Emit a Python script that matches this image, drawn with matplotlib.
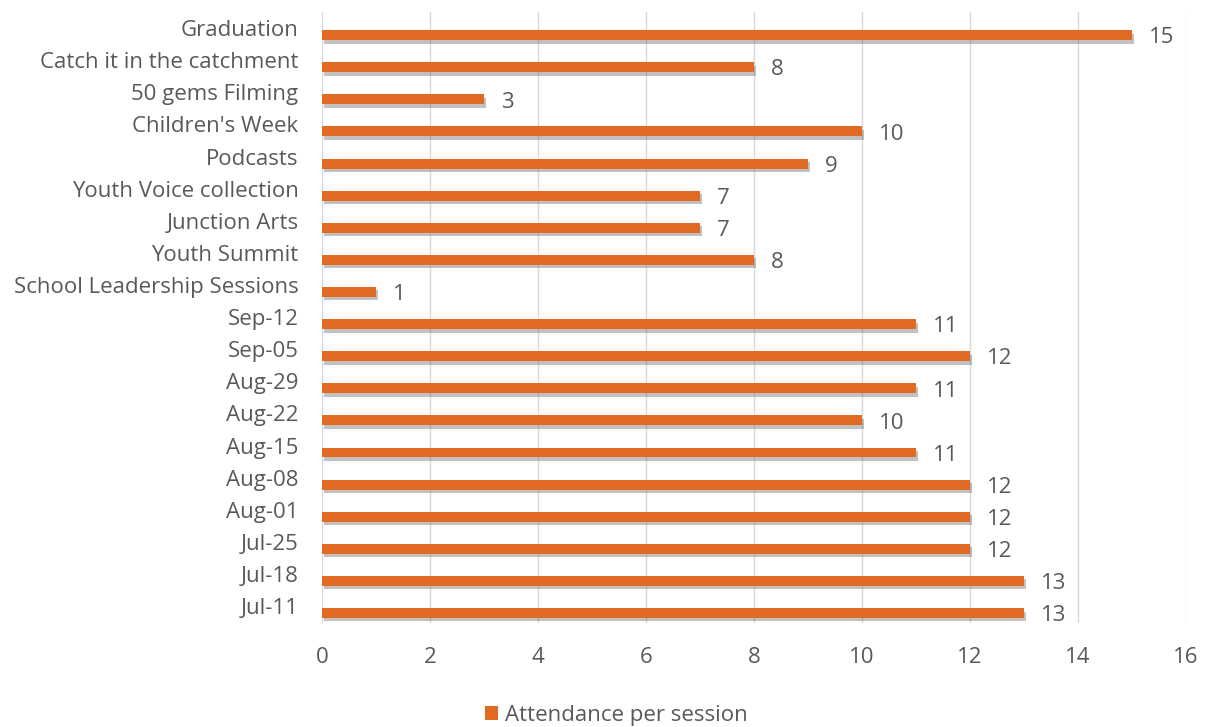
import matplotlib
matplotlib.use("Agg")
import matplotlib.pyplot as plt
import matplotlib.patheffects as pe
from matplotlib.patches import Patch
from matplotlib.transforms import ScaledTranslation

categories = ["Graduation", "Catch it in the catchment", "50 gems Filming", "Children's Week",
              "Podcasts", "Youth Voice collection", "Junction Arts", "Youth Summit",
              "School Leadership Sessions", "Sep-12", "Sep-05", "Aug-29", "Aug-22",
              "Aug-15", "Aug-08", "Aug-01", "Jul-25", "Jul-18", "Jul-11"]
values = [15, 8, 3, 10, 9, 7, 7, 8, 1, 11, 12, 11, 10, 11, 12, 12, 12, 13, 13]
series_name = "Attendance per session"
xticks = [0, 2, 4, 6, 8, 10, 12, 14, 16]

plt.rcParams['font.family'] = ['Open Sans', 'DejaVu Sans']
fig = plt.figure(figsize=(12.08, 7.27), dpi=100)
ax = fig.add_axes([0.2666, 0.1431, 0.7152, 0.8404])

color = "#E06A22"
text_color = "#595959"
fs = 16
n = len(categories)
ypos = list(range(n))[::-1]
ax.barh(ypos, values, height=0.31, color=color, zorder=3,
        path_effects=[pe.SimplePatchShadow(offset=(1.5, -2.5), shadow_rgbFace="#666666", alpha=0.4),
                      pe.Normal()])
for y, v in zip(ypos, values):
    t = ax.text(v + 0.31, y, str(v), va="center", ha="left", fontsize=fs, color=text_color)
    t.set_transform(t.get_transform() + ScaledTranslation(0, -2 / 72, fig.dpi_scale_trans))

ax.set_yticks(ypos)
ax.set_yticklabels(categories, fontsize=fs, color=text_color)
ax.set_xticks(xticks)
ax.set_xticklabels([str(t) for t in xticks], fontsize=fs, color=text_color)
ax.set_xlim(0, 16)
ax.set_ylim(-0.31, n - 1 + 0.72)
ax.tick_params(axis="y", length=0, pad=17)
ax.tick_params(axis="x", length=0, pad=17)
for lab in ax.get_yticklabels():
    lab.set_transform(lab.get_transform() + ScaledTranslation(0, 5 / 72, fig.dpi_scale_trans))
for s in ax.spines.values():
    s.set_visible(False)
ax.grid(axis="x", color="#d9d9d9", linewidth=1, zorder=0)
ax.set_axisbelow(True)

handles = [Patch(facecolor=color, label=series_name)]
fig.legend(handles=handles, loc="center", bbox_to_anchor=(0.51, 0.0165), frameon=False,
           fontsize=fs, labelcolor=text_color, handlelength=0.6, handleheight=0.6,
           handletextpad=0.3, borderpad=0)

fig.savefig("out.png", dpi=100)
